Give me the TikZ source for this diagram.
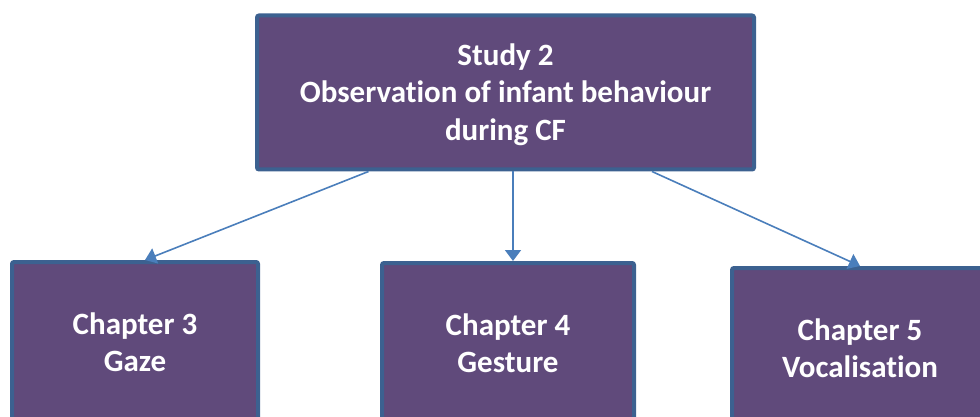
\documentclass[tikz,border=0pt]{standalone}
\usepackage{fontspec}
\setmainfont[Ligatures=NoCommon]{Carlito}
\usetikzlibrary{arrows.meta,calc}
\definecolor{boxfill}{HTML}{604A7B}
\definecolor{boxline}{HTML}{3C6190}
\definecolor{arrowblue}{HTML}{4A7EBB}
\tikzset{
  chapbox/.style={draw=boxline, fill=boxfill, line width=4pt, rounded corners=2pt,
    inner sep=0pt, text=white, align=center,
    font=\fontsize{31}{37.5}\selectfont\bfseries},
  link/.style={draw=arrowblue, line width=1.6pt,
    -{Triangle[width=16pt,length=11pt]}}
}
\begin{document}
\begin{tikzpicture}[x=1pt,y=-1pt]
\useasboundingbox (0,0) rectangle (980,417);
\clip (0,0) rectangle (980,417);
\node[chapbox, minimum width=497pt, minimum height=154pt] (study) at (505.5,92.5)
  {\raisebox{-3pt}[\height][\depth]{\begin{tabular}{@{}c@{}}Study 2\\Observation of infant behaviour\\during CF\end{tabular}}};
\node[chapbox, minimum width=246pt, minimum height=160pt] (gaze) at (135,342)
  {Chapter 3\\Gaze};
\node[chapbox, minimum width=252pt, minimum height=160pt] (gesture) at (508,343)
  {Chapter 4\\Gesture};
\node[chapbox, minimum width=256pt, minimum height=160pt] (vocal) at (860,348)
  {Chapter 5\\Vocalisation};
\draw[link] ([xshift=-137pt]study.south) -- ([xshift=10pt]gaze.north);
\draw[link] ([xshift=7.5pt]study.south) -- ([xshift=5pt]gesture.north);
\draw[link] ([xshift=146.5pt]study.south) -- (vocal.north);
\end{tikzpicture}
\end{document}
